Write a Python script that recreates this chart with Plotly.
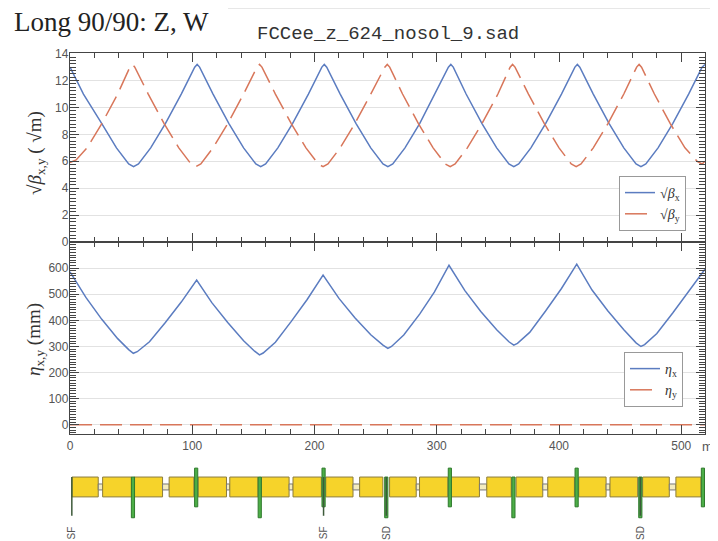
import plotly.graph_objects as go

# sqrt(beta_x), sqrt(beta_y) along s (m)
s_bx = [0, 11, 26, 38, 48, 52, 56, 66, 78, 91, 102, 104, 106, 117, 130, 142, 152, 156, 160, 170, 182, 195,
        206, 208, 210, 221, 234, 246, 256, 260, 264, 274, 286, 298, 309.5, 311.5, 313.5, 324, 337, 349, 359,
        363, 367, 377, 389, 402, 413, 415, 417, 428, 441, 453, 463, 467, 471, 481, 493, 506, 517, 519.4]
sqrt_bx = [13.0, 11.0, 8.8, 7.0, 5.8, 5.6, 5.8, 7.0, 8.8, 11.0, 13.0, 13.2, 13.0, 11.0, 8.8, 7.0, 5.8, 5.6, 5.8,
           7.0, 8.8, 11.0, 13.0, 13.2, 13.0, 11.0, 8.8, 7.0, 5.8, 5.6, 5.8, 7.0, 8.8, 11.0, 13.0, 13.2, 13.0,
           11.0, 8.8, 7.0, 5.8, 5.6, 5.8, 7.0, 8.8, 11.0, 13.0, 13.2, 13.0, 11.0, 8.8, 7.0, 5.8, 5.6, 5.8,
           7.0, 8.8, 11.0, 13.0, 13.2]

s_by = [0, 5, 14, 26, 39, 49, 51, 53, 64, 77, 89, 99, 103, 107, 117, 129, 142, 153, 155, 157, 168, 181, 193,
        203, 207, 211, 221, 233, 246, 257.5, 259.5, 261.5, 272, 285, 297, 307, 311, 315, 325, 337, 350, 360,
        362, 364, 375, 388, 400, 410, 414, 418, 428, 440, 453, 463.5, 465.5, 467.5, 478, 491, 503, 513,
        517, 519.4]
sqrt_by = [5.9, 6.1, 7.0, 8.8, 11.0, 13.0, 13.2, 13.0, 11.0, 8.8, 7.0, 5.8, 5.6, 5.8, 7.0, 8.8, 11.0, 13.0,
           13.2, 13.0, 11.0, 8.8, 7.0, 5.8, 5.6, 5.8, 7.0, 8.8, 11.0, 13.0, 13.2, 13.0, 11.0, 8.8, 7.0, 5.8,
           5.6, 5.8, 7.0, 8.8, 11.0, 13.0, 13.2, 13.0, 11.0, 8.8, 7.0, 5.8, 5.6, 5.8, 7.0, 8.8, 11.0, 13.0,
           13.2, 13.0, 11.0, 8.8, 7.0, 6.0, 5.8, 6.0]

# dispersion (mm)
s_eta = [0, 13, 26, 39, 48, 51.8, 55, 65, 78, 91, 103.6, 116, 129, 142, 151, 155, 158, 168, 181, 194, 207,
         220, 233, 246, 256, 260, 263, 273, 286, 298, 310, 323, 336, 349, 359, 363, 366, 376, 389, 402,
         414.5, 427, 440, 453, 463, 467, 470, 480, 493, 506, 519.4]
eta_x = [586, 488, 404, 330, 288, 274, 280, 318, 392, 470, 554, 468, 392, 322, 282, 268, 275, 316, 396, 480,
         573, 484, 410, 345, 305, 293, 300, 344, 424, 508, 611, 514, 434, 364, 318, 305, 312, 354, 436, 522,
         615, 516, 436, 364, 314, 300, 307, 350, 428, 510, 596]
s_etay = [0, 519.4]
eta_y = [0, 0]

eta_ticks = [0, 100, 200, 300, 400, 500, 600]

# lattice
bend_start = [1.6, 26.7, 52.3, 81.1, 104.8, 130.7, 156.6, 182.4, 209.2, 236.9, 261.4, 285.9, 311.8, 340.9,
              364.9, 390.8, 416.1, 441.7, 468.4, 495.6]
bend_end = [23.1, 50.4, 75.7, 101.3, 128.0, 153.8, 179.2, 205.6, 231.5, 255.9, 283.2, 309.1, 334.9, 360.9,
            386.7, 412.6, 438.5, 464.3, 490.2, 516.1]
fquad_s = [103.2, 207.4, 310.7, 414.4, 517.7]
dquad_s = [51.5, 155.2, 258.7, 362.7, 466.5]
sext_s = [1.5, 207.4, 258.7, 466.5]
sext_names = ['SF', 'SF', 'SD', 'SD']

# page body has an 8px margin, so the figure is laid out in a 710x533 box
OFF = 8
W, H = 718 - OFF, 541 - OFF
SMAX = 519.4
BLUE = '#5b7cc0'
RED = '#d8765a'


def px(p):
    return (p - OFF) / W


def py(p):
    return 1 - (p - OFF) / H


xdom = [px(70), px(705)]

fig = go.Figure()
fig.add_trace(go.Scatter(x=s_bx, y=sqrt_bx, mode='lines', name='√<i>β</i><sub>x</sub>',
                         line=dict(color=BLUE, width=1.5), xaxis='x', yaxis='y', legend='legend'))
fig.add_trace(go.Scatter(x=s_by, y=sqrt_by, mode='lines', name='√<i>β</i><sub>y</sub>',
                         line=dict(color=RED, width=1.5, dash='22px,8px'), xaxis='x', yaxis='y', legend='legend'))
fig.add_trace(go.Scatter(x=s_eta, y=eta_x, mode='lines', name='<i>η</i><sub>x</sub>',
                         line=dict(color=BLUE, width=1.5), xaxis='x2', yaxis='y2', legend='legend2'))
fig.add_trace(go.Scatter(x=s_etay, y=eta_y, mode='lines', name='<i>η</i><sub>y</sub>',
                         line=dict(color=RED, width=1.5, dash='22px,8px'), xaxis='x2', yaxis='y2', legend='legend2'))

tickfont = dict(family='Liberation Sans, Arial', size=12, color='#555')
frame = dict(showline=True, linecolor='#444', linewidth=1.3, mirror='allticks', ticks='inside',
             ticklen=9, tickwidth=1.2, tickcolor='#444', tickfont=tickfont, zeroline=False, automargin=False)
minor_y = dict(ticks='inside', ticklen=6, tickwidth=1, tickcolor='#444', showgrid=False)

fig.update_layout(
    width=W, height=H, margin=dict(l=0, r=0, t=0, b=0, autoexpand=False),
    plot_bgcolor='white', paper_bgcolor='white',
    xaxis=dict(frame, domain=xdom, range=[0, SMAX], anchor='y', showticklabels=False, showgrid=False,
               dtick=100, minor=dict(dtick=20, ticks='inside', ticklen=5, tickcolor='#444')),
    yaxis=dict(frame, domain=[py(242), py(53)], range=[0, 14.05], anchor='x', dtick=2,
               showgrid=True, gridcolor='#e2e2e2', ticklabelstandoff=-2,
               minor=dict(minor_y, dtick=0.25)),
    xaxis2=dict(frame, domain=xdom, range=[0, SMAX], anchor='y2', showgrid=False, dtick=100,
                minor=dict(dtick=20, ticks='inside', ticklen=5, tickcolor='#444')),
    yaxis2=dict(frame, domain=[py(434), py(242)], range=[-35, 700], anchor='x2', tickvals=eta_ticks,
                showgrid=True, gridcolor='#e2e2e2', ticklabelstandoff=-2,
                minor=dict(minor_y, tickmode='linear', tick0=0, dtick=10)),
    xaxis3=dict(domain=xdom, range=[0, SMAX], anchor='y3', visible=False),
    yaxis3=dict(domain=[0, py(455)], range=[-6.33 + OFF / 9, 3.22], anchor='x3', visible=False),
    legend=dict(x=px(686), xanchor='right', y=py(176), yanchor='top', bgcolor='white',
                bordercolor='#999', borderwidth=1, font=dict(family='Liberation Serif', size=14, color='#333'),
                tracegroupgap=0, itemwidth=30),
    legend2=dict(x=px(683), xanchor='right', y=py(352), yanchor='top', bgcolor='white',
                 bordercolor='#999', borderwidth=1, font=dict(family='Liberation Serif', size=14, color='#333'),
                 tracegroupgap=0, itemwidth=30),
    showlegend=True,
)

# titles and labels
ann = [
    dict(text='Long 90/90: Z, W', x=px(12), y=py(22), xanchor='left',
         font=dict(family='Liberation Serif', size=27, color='#222')),
    dict(text='FCCee_z_624_nosol_9.sad', x=px(388), y=py(34), xanchor='center',
         font=dict(family='Liberation Mono', size=19, color='#333')),
    dict(text='√<i>β</i><sub>x,y</sub> ( √m)', x=px(36), y=py(153), textangle=-90, xanchor='center',
         font=dict(family='Liberation Serif', size=19, color='#333')),
    dict(text='<i>η</i><sub>x,y</sub> (mm)', x=px(35), y=py(340), textangle=-90, xanchor='center',
         font=dict(family='Liberation Serif', size=19, color='#333')),
    dict(text='m', x=px(707), y=py(446), xanchor='center',
         font=dict(family='Liberation Sans, Arial', size=13, color='#555')),
]
for a in ann:
    a.update(xref='paper', yref='paper', showarrow=False, yanchor='middle')
    fig.add_annotation(**a)

# thin slide rule on top
fig.add_shape(type='line', xref='paper', yref='paper', x0=px(228), x1=1, y0=py(8), y1=py(8),
              line=dict(color='#cfcfcf', width=1))

# lattice drawing
for i, (a, b) in enumerate(zip(bend_start, bend_end)):
    fig.add_shape(type='rect', xref='x3', yref='y3', x0=a, x1=b, y0=-1, y1=1,
                  fillcolor='#f6d32a', line=dict(color='#8c7d3c', width=1))
    if i % 2 == 0 and i + 1 < len(bend_start):
        fig.add_shape(type='rect', xref='x3', yref='y3', x0=b, x1=bend_start[i + 1], y0=-0.3, y1=0.3,
                      fillcolor='#f3ecc0', line=dict(color='#777', width=1))
for s in fquad_s:
    fig.add_shape(type='rect', xref='x3', yref='y3', x0=s - 1.3, x1=s + 1.3, y0=-2.0, y1=1.9,
                  fillcolor='#4cae47', line=dict(color='#2f7a2c', width=1))
for s in dquad_s:
    fig.add_shape(type='rect', xref='x3', yref='y3', x0=s - 1.3, x1=s + 1.3, y0=-3.1, y1=1.0,
                  fillcolor='#4cae47', line=dict(color='#2f7a2c', width=1))
for s, name in zip(sext_s, sext_names):
    fig.add_shape(type='line', xref='x3', yref='y3', x0=s, x1=s, y0=-2.9, y1=1.0,
                  line=dict(color='#3d5a3a', width=1.5))
    fig.add_annotation(x=s, y=-4.6, xref='x3', yref='y3', text=name, textangle=-90, showarrow=False,
                       font=dict(family='Liberation Sans, Arial', size=10, color='#555'))

fig.write_html("out.html")
